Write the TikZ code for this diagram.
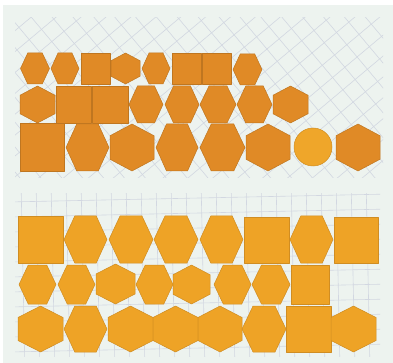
\documentclass[tikz,border=0pt]{standalone}
\definecolor{bgc}{HTML}{EDF3EF}
\definecolor{gridc}{HTML}{D2D7E1}
\definecolor{topfill}{HTML}{E08A26}
\definecolor{topedge}{HTML}{BF7620}
\definecolor{botfill}{HTML}{EEA326}
\definecolor{botedge}{HTML}{D08D22}
\definecolor{circfill}{HTML}{EFA62A}
\newcommand{\HexF}[5]{\draw[#5] (#1+#3/2,#2) -- (#1+#3/4,#2-#4/2) -- (#1-#3/4,#2-#4/2) -- (#1-#3/2,#2) -- (#1-#3/4,#2+#4/2) -- (#1+#3/4,#2+#4/2) -- cycle;}
\newcommand{\HexP}[5]{\draw[#5] (#1,#2-#4/2) -- (#1+#3/2,#2-#4/4) -- (#1+#3/2,#2+#4/4) -- (#1,#2+#4/2) -- (#1-#3/2,#2+#4/4) -- (#1-#3/2,#2-#4/4) -- cycle;}
\newcommand{\SqB}[5]{\draw[#5] (#1,#2) rectangle (#3,#4);}
\begin{document}
\begin{tikzpicture}[x=1pt,y=-1pt,
  tp/.style={fill=topfill,draw=topedge,line width=0.5pt,line join=round},
  bt/.style={fill=botfill,draw=botedge,line width=0.5pt,line join=round},
  gridline/.style={draw=gridc,line width=0.6pt}]
\useasboundingbox (0,0) rectangle (393,363);
\fill[white] (0,0) rectangle (393,363);
\fill[bgc] (3,5) rectangle (393,363);
% top grid
\begin{scope}
\clip (15,18) rectangle (383,178);
\begin{scope}[shift={(200,100)},rotate=40]
\foreach \i in {-25,...,25} {
  \draw[gridline] (\i*16+4,-400) -- (\i*16+4,400);
  \draw[gridline] (-400,\i*16+4) -- (400,\i*16+4);
}
\end{scope}
\end{scope}
% bottom grid
\begin{scope}
\clip (15,194) rectangle (380,356);
\begin{scope}[shift={(200,275)},rotate=1.2]
\foreach \i in {-14,...,14} {
  \draw[gridline] (\i*15+3,-120) -- (\i*15+3,120);
}
\foreach \i in {-6,...,6} {
  \draw[gridline] (-250,\i*15-2) -- (250,\i*15-2);
}
\end{scope}
\end{scope}
% top panel row 1
\HexF{35}{68.5}{29}{31}{tp}
\HexF{65}{68.5}{28}{31}{tp}
\SqB{81}{53}{110}{84}{tp}
\HexP{125.5}{68.5}{29}{31}{tp}
\HexF{156}{68.5}{28}{31}{tp}
\SqB{172}{53}{201}{84}{tp}
\SqB{202}{53}{231}{84}{tp}
\HexF{247.5}{69.5}{29}{31}{tp}
% top row 2
\HexP{37.5}{104.5}{35}{37}{tp}
\SqB{56}{86}{91}{123}{tp}
\SqB{92}{86}{128}{123}{tp}
\HexF{146}{104.5}{34}{37}{tp}
\HexF{182}{104.5}{34}{37}{tp}
\HexF{218}{104.5}{36}{37}{tp}
\HexF{254.5}{104.5}{35}{37}{tp}
\HexP{290.5}{104.5}{35}{37}{tp}
% top row 3
\SqB{20}{123}{64}{171}{tp}
\HexF{87.5}{147.5}{43}{47}{tp}
\HexP{132}{147.5}{44}{47}{tp}
\HexF{177}{147.5}{42}{47}{tp}
\HexF{222.5}{147.5}{45}{47}{tp}
\HexP{268}{147.5}{44}{47}{tp}
\draw[fill=circfill,draw=botedge,line width=0.5pt] (313,147) circle[radius=19];
\HexP{358}{147.5}{44}{47}{tp}
% bottom row 1
\SqB{18}{216}{63}{263}{bt}
\HexF{85.5}{239.5}{43}{47}{bt}
\HexF{131}{239.5}{44}{47}{bt}
\HexF{176}{239.5}{44}{47}{bt}
\HexF{221.5}{239.5}{43}{47}{bt}
\SqB{244}{217}{289}{263}{bt}
\HexF{311.5}{239.5}{43}{47}{bt}
\SqB{334}{217}{378}{263}{bt}
% bottom row 2
\HexF{37.5}{284.5}{37}{39}{bt}
\HexF{76.5}{284.5}{37}{39}{bt}
\HexP{115.5}{284}{39}{40}{bt}
\HexF{154.5}{284.5}{37}{39}{bt}
\HexP{191.5}{284.5}{37}{39}{bt}
\HexF{232.5}{284.5}{37}{39}{bt}
\HexF{271}{284.5}{38}{39}{bt}
\SqB{291}{265}{329}{304}{bt}
% bottom row 3
\HexP{40.5}{329}{45}{46}{bt}
\HexF{85.5}{329}{43}{46}{bt}
\HexP{130.5}{329}{45}{46}{bt}
\HexP{175.5}{329}{45}{46}{bt}
\HexP{220}{329}{44}{46}{bt}
\HexF{264}{329}{44}{46}{bt}
\SqB{286}{306}{331}{352}{bt}
\HexP{353.5}{329}{45}{46}{bt}
\end{tikzpicture}
\end{document}
